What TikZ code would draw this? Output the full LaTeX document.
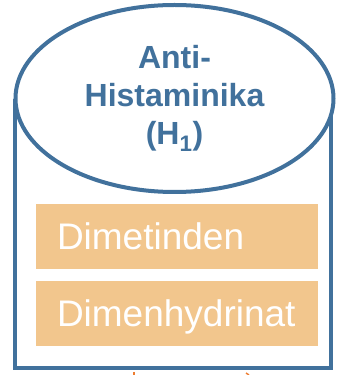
\documentclass[tikz,border=0pt]{standalone}
\usepackage{fontspec}
\setmainfont{Liberation Sans}
\usetikzlibrary{positioning, shapes.geometric}
\definecolor{kopfblau}{RGB}{65,113,156}
\definecolor{wirkorange}{RGB}{242,198,141}
\definecolor{strichorange}{RGB}{237,125,49}

\begin{document}
\begin{tikzpicture}[x=1pt, y=1pt,
    wirkstoff/.style={fill=wirkorange, text=white, minimum width=282pt, minimum height=65pt,
        inner xsep=21pt, inner ysep=0pt, text width=240pt, align=left,
        text height=26pt, text depth=0pt, font=\fontsize{37}{40}\selectfont}]
    \useasboundingbox (0,0) rectangle (346,375);
    % Zylinderkoerper
    \draw[kopfblau, line width=4pt] (15,276) -- (15,7) -- (331,7) -- (331,276);
    \node[ellipse, draw=kopfblau, line width=4pt, fill=white, minimum width=318pt,
        minimum height=187pt, inner sep=0pt, align=center, text=kopfblau,
        font=\bfseries\fontsize{32}{38}\selectfont] (kopf) at (174.5,276.5)
        {Anti-\\Histaminika\\(H\textsubscript{1})};
    \node[wirkstoff] (dimetinden) at (177,138.5) {Dimetinden};
    \node[wirkstoff, below=12pt of dimetinden] (dimenhydrinat) {Dimenhydrinat};
    % angeschnittene Striche unten
    \coordinate (s1) at (134,3);
    \coordinate (s2) at (246,2);
    \draw[strichorange, line width=1.5pt] (s1) -- (134,0);
    \draw[strichorange, line width=1.5pt] (s2) -- (249,0);
\end{tikzpicture}
\end{document}
